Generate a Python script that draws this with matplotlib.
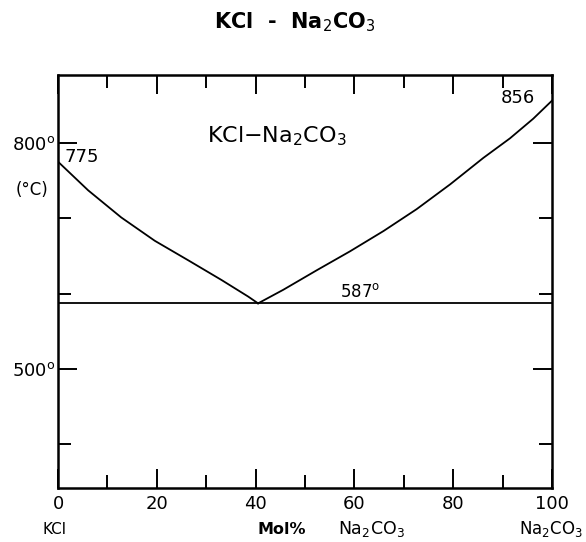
import numpy as np
import matplotlib.pyplot as plt

plt.rcParams['font.family'] = ['DejaVu Sans']
plt.rcParams['mathtext.fontset'] = 'dejavusans'

# liquidus curves (mol% Na2CO3, deg C)
kcl_x = [0, 6.1, 12.8, 19.6, 26.4, 33.1, 38.5, 40.5]
kcl_t = [775, 737, 701, 670, 644, 618, 596, 587]
na_x = [40.5, 45.6, 52.4, 59.1, 65.9, 72.6, 79.4, 86.1, 91.5, 96.2, 100]
na_t = [587, 605, 631, 656, 683, 712, 745, 780, 806, 832, 856]

eutectic_x = 40.5
eutectic_t = 587

x_major = [0, 20, 40, 60, 80, 100]
x_minor = [10, 30, 50, 70, 90]
y_major = [500, 800]
y_minor = [400, 600, 700]

fig = plt.figure(figsize=(5.86, 5.42), dpi=100)
ax = fig.add_axes([58 / 586, 1 - 488 / 542, 494 / 586, 413 / 542])

ax.plot(kcl_x, kcl_t, color='black', lw=1.3)
ax.plot(na_x, na_t, color='black', lw=1.3)
ax.axhline(eutectic_t, color='black', lw=1.3)

ax.set_xlim(0, 100)
ax.set_ylim(342, 890)

ax.set_xticks(x_major)
ax.set_xticks(x_minor, minor=True)
ax.set_xticklabels([str(v) for v in x_major], fontsize=13)
ax.set_yticks(y_major)
ax.set_yticks(y_minor, minor=True)
ax.set_yticklabels([f'{v}$^{{\\mathrm{{o}}}}$' for v in y_major], fontsize=13)

ax.tick_params(which='both', direction='in', top=True, right=True, width=1.4)
ax.tick_params(which='major', length=14)
ax.tick_params(which='minor', length=9.5)
ax.tick_params(axis='x', pad=5)
ax.tick_params(axis='y', pad=2)

for s in ax.spines.values():
    s.set_linewidth(1.8)

# annotations inside the plot
ax.text(1.4, 781, '775', fontsize=13, ha='left', va='center')
ax.text(96.6, 859, '856', fontsize=13, ha='right', va='center')
ax.text(30.2, 801, 'KCl$-$Na$_2$CO$_3$', fontsize=16, ha='left', va='baseline')
ax.text(57, eutectic_t + 3, '587$^{\\mathrm{o}}$', fontsize=12, ha='left', va='bottom')

fig.text(32 / 586, 1 - 190 / 542, '(°C)', fontsize=12, ha='center', va='center')

fig.text(295 / 586, 1 - 22 / 542, 'KCl  -  Na$_2$CO$_3$', fontsize=15,
         fontweight='bold', ha='center', va='center')

fig.text(55 / 586, 1 - 529 / 542, 'KCl', fontsize=11, ha='center', va='center')
fig.text(282 / 586, 1 - 529 / 542, 'Mol%', fontsize=11.5, fontweight='bold',
         ha='center', va='center')
fig.text(371 / 586, 1 - 529 / 542, 'Na$_2$CO$_3$', fontsize=12.5,
         ha='center', va='center')
fig.text(551 / 586, 1 - 529 / 542, 'Na$_2$CO$_3$', fontsize=12,
         ha='center', va='center')

fig.savefig('out.png', dpi=100)
